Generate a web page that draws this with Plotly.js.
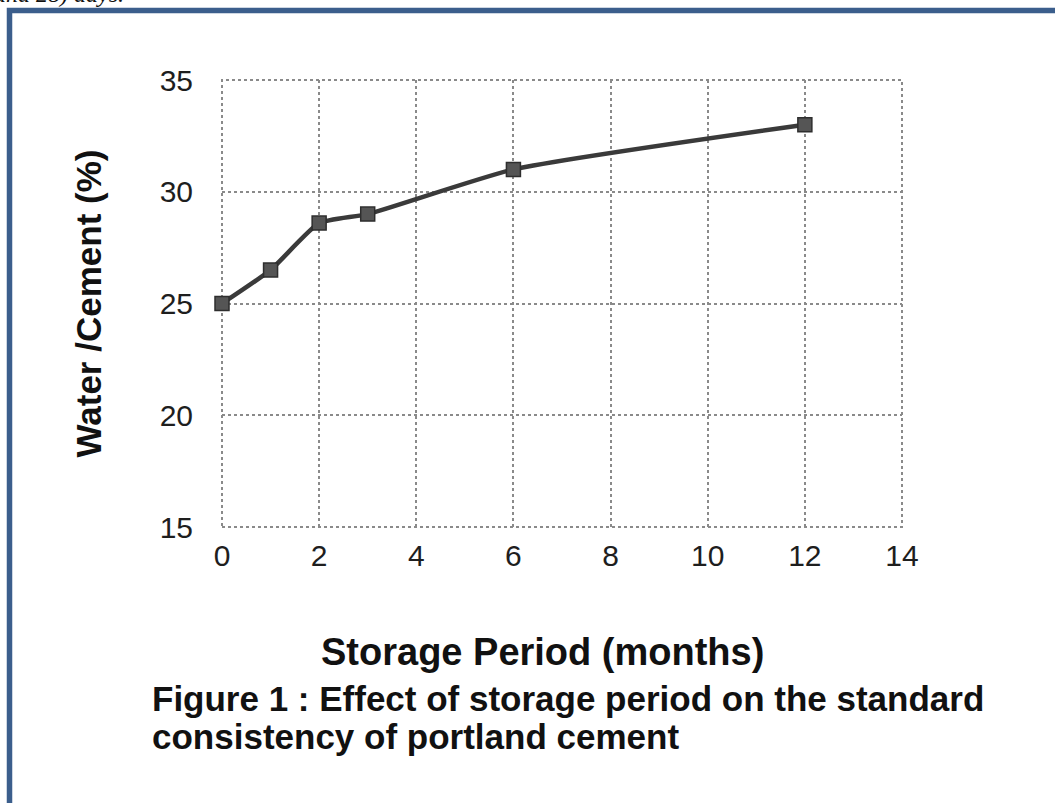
<!DOCTYPE html>
<html>
<head>
<meta charset="utf-8">
<script src="https://cdn.plot.ly/plotly-3.0.1.min.js"></script>
<style>html,body{margin:0;padding:0;background:#fff;overflow:hidden}#chart{width:1055px;height:803px}</style>
</head>
<body>
<div id="chart"></div>
<script>
// Data
const storageMonths = [0, 1, 2, 3, 6, 12];
const waterCementPct = [25, 26.5, 28.6, 29, 31, 33];
const xTickVals = [0, 2, 4, 6, 8, 10, 12, 14];
const yTickVals = [15, 20, 25, 30, 35];
const xTitle = "Storage Period (months)";
const yTitle = "Water /Cement (%)";
const captionLines = ["Figure 1 : Effect of storage period on the standard", "consistency of portland cement"];
const topFragment = "and 28) days.";

const W = 1055, H = 803;
const plotL = 222, plotR = 902, plotT = 80, plotB = 527;
const pw = plotR - plotL, ph = plotB - plotT;
const px = x => (x - plotL) / pw;
const py = y => (plotB - y) / ph;

const trace = {
  x: storageMonths,
  y: waterCementPct,
  type: 'scatter',
  mode: 'lines+markers',
  cliponaxis: false,
  line: {color: '#3a3a3a', width: 4.5, shape: 'spline', smoothing: 0.5},
  marker: {symbol: 'square', size: 14, color: '#555555', line: {color: '#2e2e2e', width: 1.5}},
  hoverinfo: 'x+y'
};

const font = "Liberation Sans, Arial, sans-serif";
const gridCol = '#8a8a8a';

const layout = {
  width: W, height: H,
  margin: {l: plotL, r: W - plotR, t: plotT, b: H - plotB, pad: 0},
  paper_bgcolor: '#ffffff',
  plot_bgcolor: '#ffffff',
  showlegend: false,
  xaxis: {
    range: [0, 14], tickvals: xTickVals, ticktext: xTickVals.map(String),
    showgrid: true, gridcolor: gridCol, griddash: 'dot', gridwidth: 2,
    zeroline: false, showline: false, ticks: '',
    ticklabelstandoff: 8,
    tickfont: {family: font, size: 30, color: '#1e1e1e'},
    automargin: false, fixedrange: true
  },
  yaxis: {
    range: [15, 35], tickvals: yTickVals, ticktext: yTickVals.map(String),
    showgrid: true, gridcolor: gridCol, griddash: 'dot', gridwidth: 2,
    zeroline: false, showline: false, ticks: '',
    ticklabelstandoff: 28,
    tickfont: {family: font, size: 30, color: '#1e1e1e'},
    title: {text: yTitle, font: {family: font, size: 35, color: '#111', weight: 'bold'}, standoff: 47},
    automargin: false, fixedrange: true
  },
  shapes: [
    {type: 'rect', xref: 'paper', yref: 'paper', layer: 'below',
     x0: 0, x1: 1, y0: 0, y1: 1,
     line: {color: gridCol, width: 2, dash: 'dot'}, fillcolor: 'rgba(0,0,0,0)'},
    {type: 'rect', xref: 'paper', yref: 'paper', layer: 'below',
     x0: px(9.5), x1: px(1200), y0: py(1000), y1: py(10.5),
     line: {color: '#3b5e8c', width: 5.5}, fillcolor: 'rgba(0,0,0,0)'}
  ],
  annotations: [
    {xref: 'paper', yref: 'paper', x: px(542), y: py(652), xanchor: 'center', yanchor: 'middle',
     showarrow: false, text: '<b>' + xTitle + '</b>',
     font: {family: font, size: 38, color: '#111'}},
    {xref: 'paper', yref: 'paper', x: px(150), y: py(698), xanchor: 'left', yanchor: 'middle',
     align: 'left', showarrow: false, text: '<b>' + captionLines[0] + '</b>',
     font: {family: font, size: 35, color: '#111'}},
    {xref: 'paper', yref: 'paper', x: px(150), y: py(736), xanchor: 'left', yanchor: 'middle',
     align: 'left', showarrow: false, text: '<b>' + captionLines[1] + '</b>',
     font: {family: font, size: 35, color: '#111'}},
    {xref: 'paper', yref: 'paper', x: px(126), y: py(9), xanchor: 'right', yanchor: 'bottom',
     showarrow: false, text: '<i>' + topFragment + '</i>',
     font: {family: 'Liberation Serif, Times New Roman, serif', size: 24, color: '#111'}}
  ]
};

Plotly.newPlot('chart', [trace], layout, {displayModeBar: false, staticPlot: true});
</script>
</body>
</html>
